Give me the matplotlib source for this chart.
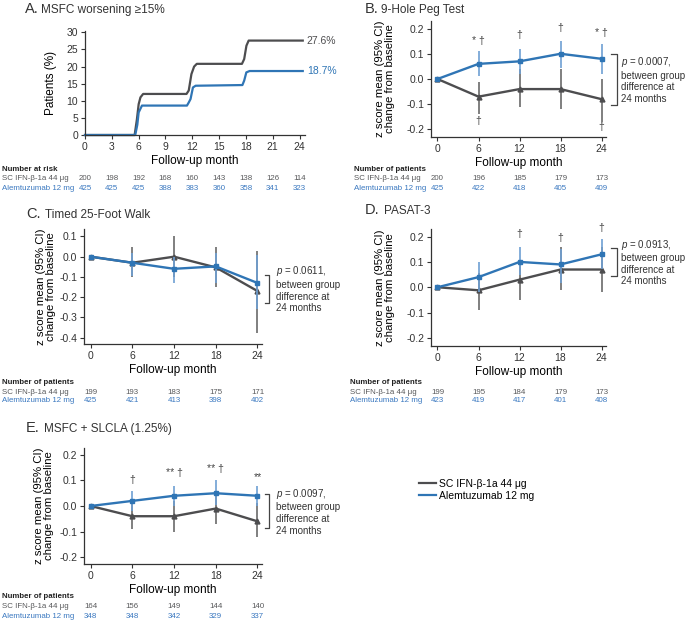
import matplotlib
matplotlib.use('Agg')
import matplotlib.pyplot as plt
import matplotlib.transforms as mtransforms
from matplotlib.lines import Line2D
import numpy as np

plt.rcParams['font.family'] = ['Liberation Sans', 'DejaVu Sans']
plt.rcParams['axes.unicode_minus'] = False
plt.rcParams['mathtext.fontset'] = 'custom'
plt.rcParams['mathtext.rm'] = 'Liberation Sans'
plt.rcParams['mathtext.it'] = 'Liberation Sans:italic'

W, H = 690, 622
GRAY = '#4d4d4f'
BLUE = '#2f75b5'
GRAY_ERR = '#6a6a6a'
BLUE_ERR = '#6e9fd3'
GRAY_TXT = '#58595b'
BLUE_TXT = '#3a78c0'

IFN_LABEL = 'SC IFN-β-1a 44 μg'
ALEM_LABEL = 'Alemtuzumab 12 mg'

# Panel A: Kaplan-Meier, MSFC worsening >=15%
km_ifn_month = [0, 5.55, 5.8, 6.0, 6.2, 6.5, 11.35, 11.6, 11.9, 12.2, 12.5, 17.55, 17.8, 18.05, 18.3, 24.35]
km_ifn_pct = [0, 0, 4.5, 9.0, 11.0, 12.0, 12.0, 13.0, 17.8, 20.0, 20.8, 20.8, 22.2, 26.1, 27.6, 27.6]
km_alem_month = [0, 5.62, 5.85, 6.0, 6.37, 11.4, 11.6, 11.8, 12.07, 12.37, 17.6, 17.8, 18.04, 18.4, 24.35]
km_alem_pct = [0, 0, 3.0, 6.6, 8.6, 8.6, 9.5, 10.5, 13.9, 14.4, 14.6, 15.9, 18.3, 18.7, 18.7]
risk_month = [0, 3, 6, 9, 12, 15, 18, 21, 24]
risk_ifn = [200, 198, 192, 168, 160, 143, 138, 126, 114]
risk_alem = [425, 425, 425, 388, 383, 360, 358, 341, 323]

months = [0, 6, 12, 18, 24]

# Panel B: 9-Hole Peg Test
peg_ifn = [0.0, -0.07, -0.04, -0.04, -0.08]
peg_ifn_lo = [0.0, -0.14, -0.11, -0.12, -0.17]
peg_ifn_hi = [0.0, -0.01, 0.04, 0.04, 0.0]
peg_alem = [0.0, 0.06, 0.07, 0.10, 0.08]
peg_alem_lo = [0.0, 0.01, 0.02, 0.045, 0.02]
peg_alem_hi = [0.0, 0.11, 0.12, 0.15, 0.14]
peg_n_ifn = [200, 196, 185, 179, 173]
peg_n_alem = [425, 422, 418, 405, 409]

# Panel C: Timed 25-Foot Walk
walk_ifn = [0.0, -0.03, 0.0, -0.053, -0.17]
walk_ifn_lo = [0.0, -0.10, -0.10, -0.15, -0.38]
walk_ifn_hi = [0.0, 0.05, 0.10, 0.05, 0.03]
walk_alem = [0.0, -0.03, -0.06, -0.048, -0.13]
walk_alem_lo = [0.0, -0.094, -0.13, -0.13, -0.26]
walk_alem_hi = [0.0, 0.02, 0.0, 0.02, 0.01]
walk_n_ifn = [199, 193, 183, 175, 171]
walk_n_alem = [425, 421, 413, 398, 402]

# Panel D: PASAT-3
pasat_ifn = [0.0, -0.012, 0.03, 0.07, 0.07]
pasat_ifn_lo = [0.0, -0.09, -0.05, -0.01, -0.02]
pasat_ifn_hi = [0.0, 0.058, 0.093, 0.16, 0.16]
pasat_alem = [0.0, 0.04, 0.10, 0.09, 0.13]
pasat_alem_lo = [0.0, -0.018, 0.05, 0.015, 0.074]
pasat_alem_hi = [0.0, 0.10, 0.16, 0.153, 0.19]
pasat_n_ifn = [199, 195, 184, 179, 173]
pasat_n_alem = [423, 419, 417, 401, 408]

# Panel E: MSFC + SLCLA (1.25%)
slcla_ifn = [0.0, -0.04, -0.04, -0.01, -0.06]
slcla_ifn_lo = [0.0, -0.09, -0.10, -0.07, -0.12]
slcla_ifn_hi = [0.0, 0.01, 0.02, 0.05, 0.01]
slcla_alem = [0.0, 0.02, 0.04, 0.05, 0.04]
slcla_alem_lo = [0.0, -0.018, 0.0, 0.004, 0.0]
slcla_alem_hi = [0.0, 0.06, 0.08, 0.10, 0.08]
slcla_n_ifn = [164, 156, 149, 144, 140]
slcla_n_alem = [348, 348, 342, 329, 337]

p_values = ['0.0007', '0.0611', '0.0913', '0.0097']


def rect(left, top, right, bottom):
    return [left / W, 1 - bottom / H, (right - left) / W, (bottom - top) / H]


def style_axes(ax):
    for side in ['top', 'right']:
        ax.spines[side].set_visible(False)
    for side in ['left', 'bottom']:
        ax.spines[side].set_color('#333333')
        ax.spines[side].set_linewidth(0.9)
    ax.tick_params(direction='out', length=3, width=0.8, colors='#333333', labelsize=7.5, pad=2)


def panel_title(fig, x_letter, x_text, y, letter, text):
    fig.text(x_letter / W, 1 - y / H, letter + '.', fontsize=10.5, color='#333333', va='baseline')
    fig.text(x_text / W, 1 - y / H, text, fontsize=8.5, color='#333333', va='baseline')


def number_table(fig, ax, x_px, y_px, heading, xs, n_ifn, n_alem):
    fig.text(x_px / W, 1 - y_px / H, heading, fontsize=5.7, fontweight='bold', color='#222222', va='center')
    fig.text(x_px / W, 1 - (y_px + 10) / H, IFN_LABEL, fontsize=5.7, color=GRAY_TXT, va='center')
    fig.text(x_px / W, 1 - (y_px + 19) / H, ALEM_LABEL, fontsize=5.7, color=BLUE_TXT, va='center')
    trans = mtransforms.blended_transform_factory(ax.transData, fig.transFigure)
    for x, a, b in zip(xs, n_ifn, n_alem):
        ax.text(x, 1 - (y_px + 10) / H, str(a), transform=trans, fontsize=5.7, color=GRAY_TXT,
                ha='center', va='center', clip_on=False)
        ax.text(x, 1 - (y_px + 19) / H, str(b), transform=trans, fontsize=5.7, color=BLUE_TXT,
                ha='center', va='center', clip_on=False)


def z_panel(ax, ifn, ifn_lo, ifn_hi, alem, alem_lo, alem_hi, ylim, yticks, ylabelpad):
    ifn, ifn_lo, ifn_hi = map(np.array, (ifn, ifn_lo, ifn_hi))
    alem, alem_lo, alem_hi = map(np.array, (alem, alem_lo, alem_hi))
    ax.errorbar(months, ifn, yerr=[ifn - ifn_lo, ifn_hi - ifn], fmt='-^', color=GRAY, ecolor=GRAY_ERR,
                elinewidth=1.2, capsize=0, ms=3.5, lw=1.7, zorder=3)
    ax.errorbar(months, alem, yerr=[alem - alem_lo, alem_hi - alem], fmt='-s', color=BLUE, ecolor=BLUE_ERR,
                elinewidth=1.2, capsize=0, ms=3.5, lw=1.7, zorder=4)
    ax.set_xlim(-0.95, 24.65)
    ax.set_ylim(*ylim)
    ax.set_xticks(months)
    ax.set_yticks(yticks)
    ax.set_yticklabels([f'{v:.1f}' for v in yticks])
    ax.set_xlabel('Follow-up month', fontsize=8.5, labelpad=2)
    ax.set_ylabel('z score mean (95% CI)\nchange from baseline', fontsize=8.2, labelpad=ylabelpad,
                  linespacing=1.0)
    style_axes(ax)


def bracket(ax, x0, x1, top, bot, xt, p):
    ax.plot([x0, x1, x1, x0], [top, top, bot, bot], color='#444444', lw=0.9, clip_on=False)
    ax.text(xt, (top + bot) / 2, f'$p$ = {p},\nbetween group\ndifference at\n24 months', fontsize=7,
            color='#333333', ha='left', va='center', linespacing=1.2, clip_on=False)


def marks(ax, items):
    for x, y, s in items:
        ax.text(x, y, s, fontsize=7.5, color='#444444', ha='center', va='center', clip_on=False)


fig = plt.figure(figsize=(W / 100, H / 100), dpi=100)

# A
axA = fig.add_axes(rect(85, 31, 305, 135))
axA.plot(km_ifn_month, km_ifn_pct, color=GRAY, lw=1.6, clip_on=False)
axA.plot(km_alem_month, km_alem_pct, color=BLUE, lw=1.6, clip_on=False)
axA.set_xlim(0, 24.6)
axA.set_ylim(0, 30.4)
axA.set_xticks(risk_month)
axA.set_yticks(range(0, 31, 5))
axA.set_xlabel('Follow-up month', fontsize=8.5, labelpad=2)
axA.set_ylabel('Patients (%)', fontsize=8.5, labelpad=7)
style_axes(axA)
axA.text(24.8, km_ifn_pct[-1], f'{km_ifn_pct[-1]}%', fontsize=7.5, color=GRAY, va='center', clip_on=False)
axA.text(24.8, km_alem_pct[-1], f'{km_alem_pct[-1]}%', fontsize=7.5, color=BLUE, va='center', clip_on=False)
panel_title(fig, 25, 41, 13, 'A', 'MSFC worsening ≥15%')
number_table(fig, axA, 2, 169, 'Number at risk', risk_month, risk_ifn, risk_alem)

# B
axB = fig.add_axes(rect(431, 21, 606, 137))
z_panel(axB, peg_ifn, peg_ifn_lo, peg_ifn_hi, peg_alem, peg_alem_lo, peg_alem_hi,
        (-0.23, 0.23), [0.2, 0.1, 0.0, -0.1, -0.2], 8)
bracket(axB, 25.4, 26.2, 0.10, -0.105, 26.9, p_values[0])
marks(axB, [(6, 0.152, '* †'), (12, 0.176, '†'), (18, 0.203, '†'), (24, 0.183, '* †'),
            (6, -0.166, '†'), (24, -0.19, '†')])
panel_title(fig, 365, 381, 13, 'B', '9-Hole Peg Test')
number_table(fig, axB, 354, 169, 'Number of patients', months, peg_n_ifn, peg_n_alem)

# C
axC = fig.add_axes(rect(84, 229, 262, 344))
z_panel(axC, walk_ifn, walk_ifn_lo, walk_ifn_hi, walk_alem, walk_alem_lo, walk_alem_hi,
        (-0.432, 0.137), [0.1, 0.0, -0.1, -0.2, -0.3, -0.4], 2)
bracket(axC, 25.1, 25.6, -0.09, -0.228, 26.7, p_values[1])
panel_title(fig, 26, 45, 218, 'C', 'Timed 25-Foot Walk')
number_table(fig, axC, 2, 382, 'Number of patients', months, walk_n_ifn, walk_n_alem)

# D
axD = fig.add_axes(rect(431, 229, 606, 346))
z_panel(axD, pasat_ifn, pasat_ifn_lo, pasat_ifn_hi, pasat_alem, pasat_alem_lo, pasat_alem_hi,
        (-0.232, 0.23), [0.2, 0.1, 0.0, -0.1, -0.2], 8)
bracket(axD, 25.4, 26.2, 0.155, 0.045, 26.9, p_values[2])
marks(axD, [(12, 0.21, '†'), (18, 0.196, '†'), (24, 0.232, '†')])
panel_title(fig, 365, 384, 214, 'D', 'PASAT-3')
number_table(fig, axD, 350, 382, 'Number of patients', months, pasat_n_ifn, pasat_n_alem)

# E
axE = fig.add_axes(rect(84, 448, 262, 564))
z_panel(axE, slcla_ifn, slcla_ifn_lo, slcla_ifn_hi, slcla_alem, slcla_alem_lo, slcla_alem_hi,
        (-0.227, 0.227), [0.2, 0.1, 0.0, -0.1, -0.2], 4)
bracket(axE, 25.1, 25.6, 0.046, -0.086, 26.7, p_values[3])
marks(axE, [(6, 0.10, '†'), (12, 0.13, '** †'), (18, 0.146, '** †'), (24, 0.115, '**')])
panel_title(fig, 26, 44, 432, 'E', 'MSFC + SLCLA (1.25%)')
number_table(fig, axE, 2, 597, 'Number of patients', months, slcla_n_ifn, slcla_n_alem)

handles = [Line2D([], [], color=GRAY, lw=1.6), Line2D([], [], color=BLUE, lw=1.6)]
fig.legend(handles, [IFN_LABEL, ALEM_LABEL], loc='upper left', bbox_to_anchor=(419 / W, 1 - 479 / H),
           frameon=False, fontsize=7.5, handlelength=1.6, handletextpad=0.3, borderpad=0,
           borderaxespad=0, labelspacing=0.2)

fig.savefig('out.png', dpi=100)
